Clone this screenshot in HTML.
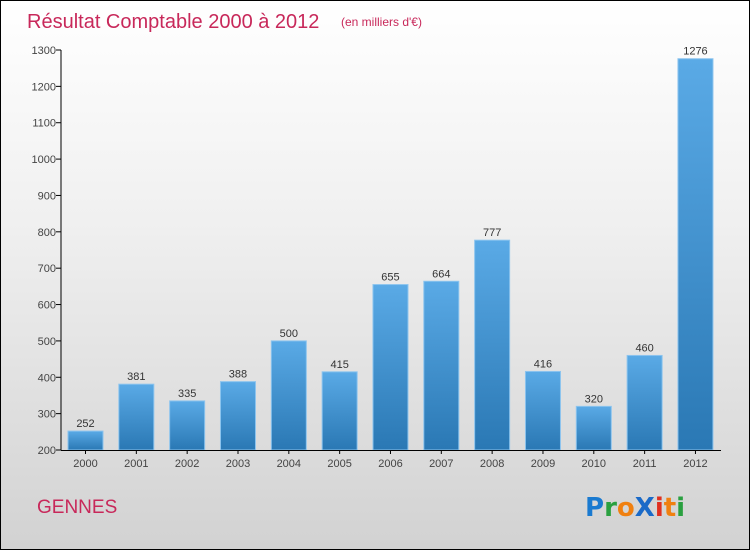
<!DOCTYPE html>
<html><head><meta charset="utf-8"><style>
body{margin:0;}
#c{position:relative;width:748px;height:548px;border:1px solid #000;background:linear-gradient(#ffffff,#f0f0f0 40%,#d2d2d2);font-family:"Liberation Sans",sans-serif;overflow:hidden}
</style></head><body>
<div id="c">
<svg width="748" height="548" id="svg">
<defs><linearGradient id="bg" x1="0" y1="0" x2="0" y2="1"><stop offset="0" stop-color="#5aaae6"/><stop offset="1" stop-color="#2a78b4"/></linearGradient></defs>
<text x="26" y="27" font-size="20" fill="#c8285a">Résultat Comptable 2000 à 2012</text>
<text x="340" y="25" font-size="12" fill="#c8285a">(en milliers d'€)</text>
<text x="36" y="512" font-size="19" fill="#c8285a">GENNES</text>
<g font-size="26" font-weight="bold" font-family="'DejaVu Sans',sans-serif">
<text x="584" y="515"><tspan fill="#1a7ad0">P</tspan><tspan fill="#2aa040">r</tspan><tspan fill="#f08010">o</tspan><tspan fill="#1a6ac8">X</tspan><tspan fill="#e03020">i</tspan><tspan fill="#f08010">t</tspan><tspan fill="#2aa040">i</tspan></text></g>
<g id="g"></g>
</svg></div>
<script>
const years=["2000","2001","2002","2003","2004","2005","2006","2007","2008","2009","2010","2011","2012"];
const values=[252,381,335,388,500,415,655,664,777,416,320,460,1276];
const ticks=[200,300,400,500,600,700,800,900,1000,1100,1200,1300];
const NS="http://www.w3.org/2000/svg";
const g=document.getElementById('g');
const y=v=>449-(v-200)*400/1100;
const x=i=>67+i*50.83;
function el(t,a,txt){const e=document.createElementNS(NS,t);for(const k in a)e.setAttribute(k,a[k]);if(txt!==undefined)e.textContent=txt;g.appendChild(e);return e;}
ticks.forEach(t=>{
 const l=el('line',{x1:55,x2:60,y1:y(t),y2:y(t),stroke:'#000'});
 
 
 const tx=el('text',{x:55,y:y(t)+4,'font-size':11,fill:'#444','text-anchor':'end'},t);
 
 
});
years.forEach((yr,i)=>{
 const b=el('rect',{x:x(i),y:y(values[i]),width:35,height:449-y(values[i]),fill:'url(#bg)',stroke:'#8cc4ee','stroke-width':1});
 
 
 const v=el('text',{x:x(i)+17.5,y:y(values[i])-4,'font-size':11,fill:'#333','text-anchor':'middle'},values[i]);
 
 
 const tk=el('line',{x1:x(i)+17.5,x2:x(i)+17.5,y1:449,y2:453,stroke:'#000'});
 
 
 const xl=el('text',{x:x(i)+17.5,y:466,'font-size':11,fill:'#444','text-anchor':'middle'},yr);
 
 
});
const ya=el('line',{x1:60,x2:60,y1:49,y2:449,stroke:'#000'});


const xa=el('line',{x1:60,x2:720,y1:449.5,y2:449.5,stroke:'#000'});


</script>
</body></html>
